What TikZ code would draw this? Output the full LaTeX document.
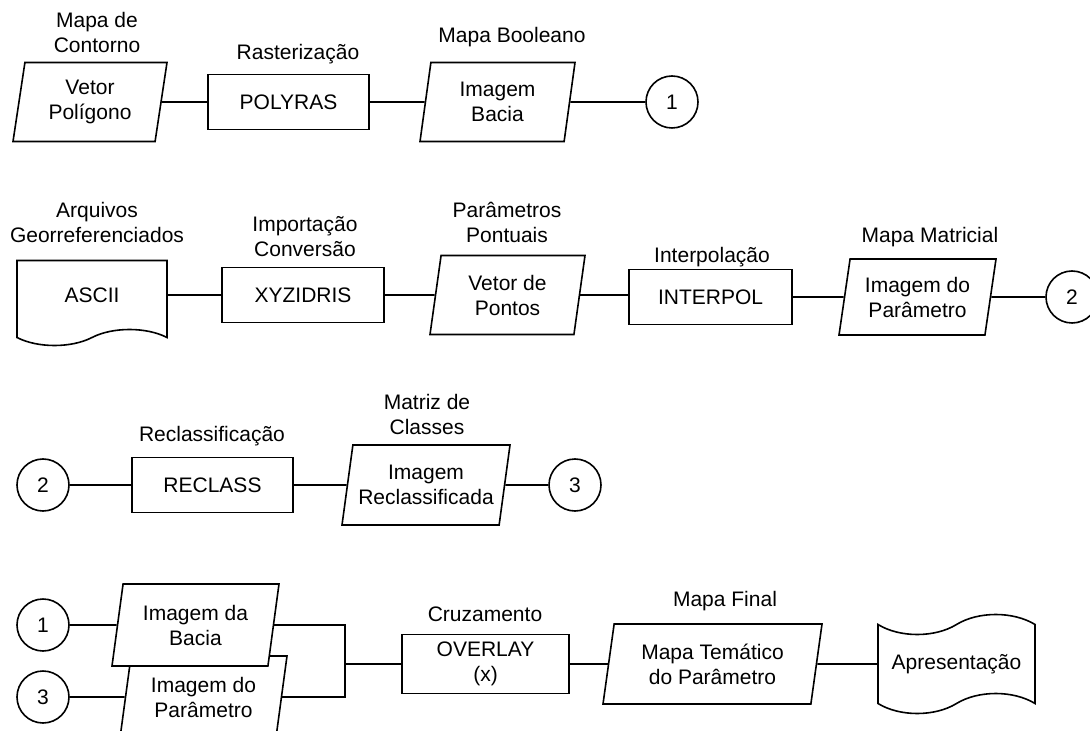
\documentclass[tikz,border=0pt]{standalone}
\usepackage{fontspec}
\setmainfont{Liberation Sans}
\usepackage{tikz}
\usetikzlibrary{shapes.geometric,shapes.symbols}
\tikzset{
  figfont/.style={font=\fontsize{10.5}{12.5}\selectfont},
  figline/.style={line width=0.8pt},
  figbox/.style={draw, figline, rectangle, align=center, inner sep=1pt, minimum width=81pt, minimum height=27.5pt},
  figdata/.style={draw, figline, fill=white, trapezium, trapezium left angle=76, trapezium right angle=104,
    trapezium stretches body, align=center, inner sep=1pt, minimum height=39.5pt},
  figdoc/.style={draw, figline, fill=white, tape, align=center, inner sep=1pt},
  figconn/.style={draw, figline, circle, minimum size=26pt, inner sep=0pt},
  figlabel/.style={anchor=south, inner sep=0pt, text depth=0pt, align=center},
}

\begin{document}
\begin{tikzpicture}[figfont, x=0.5pt, y=-0.5pt]
\useasboundingbox (0,0) rectangle (1090,731);
\clip (0,0) rectangle (1090,731);

% Row 1 - bacia
\node[figdata, minimum width=77pt] (vpol) at (90,102) {Vetor\\Polígono};
\node[figbox, minimum width=80.5pt] (polyras) at (288.5,102) {POLYRAS};
\node[figdata, minimum width=77.5pt] (bacia) at (497.5,102) {Imagem\\Bacia};
\node[figconn] (ca1) at (672,102) {1};

\node[figlabel] (lvpol) at (97,53) {Mapa de\\Contorno};
\node[figlabel] (lpolyras) at (298,60) {Rasterização};
\node[figlabel] (lbacia) at (512,43) {Mapa Booleano};

% Row 2 - parametro
\node[figdoc, tape bend top=none, tape bend bottom=in and out, tape bend height=8pt,
  minimum width=75pt, minimum height=42.5pt] (ascii) at (92,295) {ASCII};
\node[figbox] (xyz) at (303,295) {XYZIDRIS};
\node[figdata, minimum width=77.5pt] (vpts) at (507.5,295) {Vetor de\\Pontos};
\node[figbox, minimum width=81.5pt] (interpol) at (710.5,297) {INTERPOL};
\node[figdata, minimum width=78.5pt, minimum height=38pt] (imgpar) at (917.5,297) {Imagem do\\Parâmetro};
\node[figconn] (ca2) at (1072,297) {2};

\node[figlabel] (lascii) at (97,243) {Arquivos\\Georreferenciados};
\node[figlabel] (lxyz) at (305,257) {Importação\\Conversão};
\node[figlabel] (lvpts) at (507,243) {Parâmetros\\Pontuais};
\node[figlabel] (linterpol) at (712,263) {Interpolação};
\node[figlabel] (limgpar) at (930,243) {Mapa Matricial};

% Row 3 - reclassificacao
\node[figconn] (cb2) at (43,485) {2};
\node[figbox, minimum width=80.5pt] (reclass) at (212.5,485) {RECLASS};
\node[figdata, minimum width=84pt, minimum height=40pt] (imgrec) at (426,485) {Imagem\\Reclassificada};
\node[figconn] (cb3) at (575,485) {3};

\node[figlabel] (lreclass) at (212,442) {Reclassificação};
\node[figlabel] (limgrec) at (427,435) {Matriz de\\Classes};

% Row 4 - cruzamento
\node[figdata, minimum width=83.5pt, minimum height=41pt] (par) at (203.5,697) {Imagem do\\Parâmetro};
\node[figdata, minimum width=83.5pt, minimum height=41pt] (bac) at (195.5,625) {Imagem da\\Bacia};
\node[figconn] (cc1) at (43,625) {1};
\node[figconn] (cc3) at (43,697) {3};
\node[figbox, minimum width=83.5pt, minimum height=29.5pt] (overlay) at (485.5,664) {OVERLAY\\(x)};
\node[figdata, minimum width=109.5pt, minimum height=40pt] (tema) at (712.5,664) {Mapa Temático\\do Parâmetro};
\node[figdoc, minimum width=78.5pt, minimum height=49.5pt, tape bend height=10pt] (apres) at (956.5,664) {Apresentação};

\node[figlabel] (loverlay) at (485,622) {Cruzamento};
\node[figlabel] (ltema) at (725,607) {Mapa Final};

% Connectors
\draw[figline] (vpol) -- (polyras);
\draw[figline] (polyras) -- (bacia);
\draw[figline] (bacia) -- (ca1);

\draw[figline] (ascii) -- (xyz);
\draw[figline] (xyz) -- (vpts);
\draw[figline] (vpts.east) -- (vpts.east -| interpol.west);
\draw[figline] (interpol) -- (imgpar);
\draw[figline] (imgpar) -- (ca2);

\draw[figline] (cb2) -- (reclass);
\draw[figline] (reclass) -- (imgrec);
\draw[figline] (imgrec) -- (cb3);

\coordinate (join) at (345,664);
\draw[figline] (cc1) -- (bac);
\draw[figline] (cc3) -- (par);
\draw[figline] (bac.east) -| (join) |- (par.east);
\draw[figline] (join) -- (overlay);
\draw[figline] (overlay) -- (tema);
\draw[figline] (tema) -- (apres);
\end{tikzpicture}
\end{document}
